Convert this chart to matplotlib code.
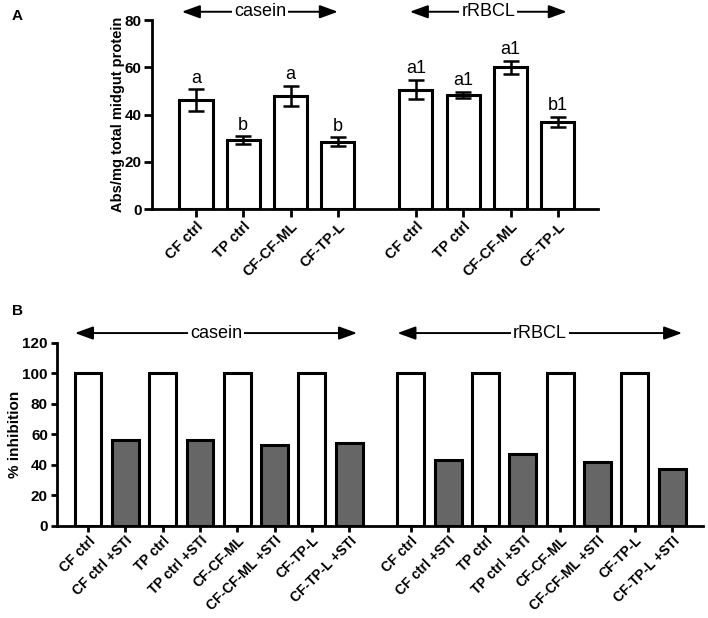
import numpy as np
import matplotlib
matplotlib.use("Agg")
import matplotlib.pyplot as plt

plt.rcParams['font.family'] = ['Liberation Sans', 'DejaVu Sans']

# panel A data
a_labels = ["CF ctrl", "TP ctrl", "CF-CF-ML", "CF-TP-L"]
a_casein = [46.0, 29.2, 48.0, 28.5]
a_casein_err = [4.6, 1.5, 4.2, 1.8]
a_casein_sig = ["a", "b", "a", "b"]
a_rbcl = [50.5, 48.2, 60.0, 36.8]
a_rbcl_err = [4.1, 1.3, 2.8, 2.1]
a_rbcl_sig = ["a1", "a1", "a1", "b1"]

# panel B data
b_labels = ["CF ctrl", "CF ctrl +STI", "TP ctrl", "TP ctrl +STI",
            "CF-CF-ML", "CF-CF-ML +STI", "CF-TP-L", "CF-TP-L +STI"]
b_casein = [100, 56, 100, 56, 100, 53, 100, 54]
b_rbcl = [100, 43, 100, 47, 100, 42, 100, 37]

GAP = 1.65
EDGE = 2.2
GRAY = "#666666"

fig = plt.figure(figsize=(7.08, 6.18), dpi=100)


def style_axis(ax, tlen):
    for s in ["top", "right"]:
        ax.spines[s].set_visible(False)
    for s in ["left", "bottom"]:
        ax.spines[s].set_linewidth(2)
    ax.tick_params(width=2, length=tlen, direction="out", pad=2)
    ax.tick_params(axis="y", labelsize=11)
    for t in ax.get_yticklabels():
        t.set_fontweight("bold")


def group_arrow(ax, x0, x1, y, text, fs=13):
    xm = (x0 + x1) / 2
    for xe in (x0, x1):
        ax.annotate("", xy=(xe, y), xytext=(xm, y), xycoords="data",
                    arrowprops=dict(arrowstyle="-|>,head_length=1.1,head_width=0.4",
                                    color="black", lw=1.4, shrinkA=0, shrinkB=0),
                    annotation_clip=False)
    ax.text(xm, y, text, ha="center", va="center", fontsize=fs,
            bbox=dict(facecolor="white", edgecolor="none", pad=1.5),
            clip_on=False, zorder=5)


# ---- panel A ----
axA = fig.add_axes([0.2147, 0.6618, 0.63, 0.3058])
xa1 = np.arange(1, 5)
xa2 = xa1 + 3 + GAP
xa = np.concatenate([xa1, xa2])
vals = a_casein + a_rbcl
errs = a_casein_err + a_rbcl_err
sigs = a_casein_sig + a_rbcl_sig
axA.bar(xa, vals, width=0.7, color="white", edgecolor="black", linewidth=EDGE, zorder=2)
axA.errorbar(xa, vals, yerr=errs, fmt="none", ecolor="black", elinewidth=1.8,
             capsize=6, capthick=1.8, zorder=3)
for x, v, e, s in zip(xa, vals, errs, sigs):
    axA.annotate(s, (x, v + e), xytext=(0, 2), textcoords="offset points",
                 ha="center", va="bottom", fontsize=13)
axA.set_xlim(0.07, xa2[-1] + 0.85)
axA.set_ylim(0, 80)
axA.set_yticks([0, 20, 40, 60, 80])
style_axis(axA, 5.5)
axA.set_xticks(xa)
axA.set_xticklabels(a_labels + a_labels, rotation=45, ha="right",
                    rotation_mode="anchor", fontweight="bold", fontsize=10.5)
axA.set_ylabel("Abs/mg total midgut protein", fontweight="bold", fontsize=10.5,
               labelpad=0)
group_arrow(axA, 0.70, 4.0, 83.5, "casein")
group_arrow(axA, 5.52, 8.84, 83.5, "rRBCL")
fig.text(0.017, 0.985, "A", fontweight="bold", fontsize=11, va="top")

# ---- panel B ----
axB = fig.add_axes([0.0805, 0.1489, 0.912, 0.2966])
xb1 = np.arange(8)
xb2 = xb1 + 7 + GAP
xb = np.concatenate([xb1, xb2])
bvals = b_casein + b_rbcl
colors = ["white" if i % 2 == 0 else GRAY for i in range(16)]
axB.bar(xb, bvals, width=0.72, color=colors, edgecolor="black", linewidth=EDGE, zorder=2)
axB.set_xlim(-0.83, xb2[-1] + 0.82)
axB.set_ylim(0, 120)
axB.set_yticks(np.arange(0, 121, 20))
style_axis(axB, 4.5)
axB.tick_params(axis="x", pad=1)
axB.set_xticks(xb)
axB.set_xticklabels(b_labels + b_labels, rotation=45, ha="right",
                    rotation_mode="anchor", fontweight="bold", fontsize=10)
axB.set_ylabel("% inhibition", fontweight="bold", fontsize=11, labelpad=0)
group_arrow(axB, -0.35, 7.21, 126.3, "casein")
group_arrow(axB, 8.29, 15.92, 126.3, "rRBCL")
fig.text(0.017, 0.508, "B", fontweight="bold", fontsize=11, va="top")

fig.savefig("out.png", dpi=100)
